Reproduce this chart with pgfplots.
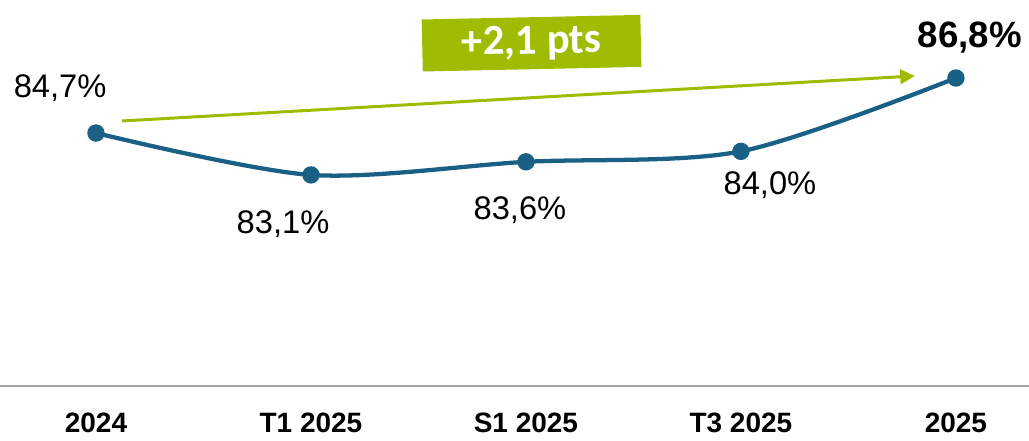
\documentclass[border=0pt]{standalone}
\usepackage{fontspec}
\setmainfont{Liberation Sans}
\newfontfamily\calib{Carlito}
\usepackage{pgfplots}
\pgfplotsset{compat=1.18}
\usetikzlibrary{arrows.meta}
\definecolor{lineblue}{RGB}{25,96,132}
\definecolor{boxgreen}{RGB}{160,188,0}
\begin{document}
\begin{tikzpicture}[x=1pt,y=1pt]
\begin{axis}[
 scale only axis, width=771.75pt, height=289.5pt,
 xmin=-0.4465, xmax=4.34, ymin=75.04, ymax=89.78,
 axis x line*=bottom, hide y axis,
 x axis line style={draw=black!35, line width=1.5pt, -},
 xtick={0,...,4}, xticklabels={2024,T1 2025,S1 2025,T3 2025,2025},
 major tick length=0pt,
 xticklabel style={font=\fontsize{21}{24}\selectfont\bfseries, anchor=north, yshift=-17pt},
 clip=false,
]
\addplot[lineblue, line width=3.2pt, smooth, tension=0.5, mark=*, mark size=4.9pt, mark options={fill=lineblue, draw=none}] coordinates {(0,84.7)(1,83.1)(2,83.6)(3,84.0)(4,86.8)};
\node[font=\fontsize{24.5}{28}\selectfont] at (axis cs:-0.167,86.42) {84,7\%};
\node[font=\fontsize{24.5}{28}\selectfont] at (axis cs:0.870,81.23) {83,1\%};
\node[font=\fontsize{24.5}{28}\selectfont] at (axis cs:1.972,81.76) {83,6\%};
\node[font=\fontsize{24.5}{28}\selectfont] at (axis cs:3.135,82.72) {84,0\%};
\node[font=\fontsize{27.5}{30}\selectfont\bfseries] at (axis cs:4.065,88.33) {86,8\%};
\draw[boxgreen, line width=2.25pt, -{Triangle[length=11pt,width=11pt]}] (axis cs:0.121,85.16) -- (axis cs:3.809,86.88);
\node[fill=boxgreen, rotate=1.2, minimum width=164pt, minimum height=39pt, inner sep=0pt, text=white, font=\calib\bfseries\fontsize{32}{36}\selectfont] at (axis cs:2.026,88.13) {+2,1 pts};
\end{axis}
\pgfresetboundingbox
\useasboundingbox (0,-41.25) rectangle (771.75,289.5);
\end{tikzpicture}
\end{document}
